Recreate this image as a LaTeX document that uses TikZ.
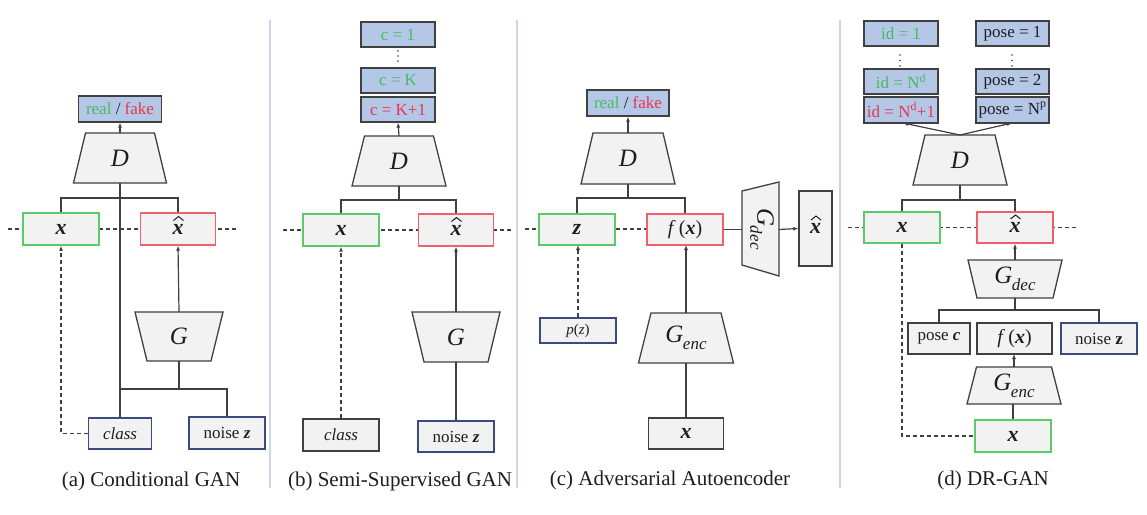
\documentclass[tikz,border=0pt]{standalone}
\usepackage{fontspec}
\setmainfont{Liberation Serif}
\usetikzlibrary{arrows.meta}
\definecolor{boxfill}{HTML}{F2F2F3}
\definecolor{bluefill}{HTML}{B4C7E7}
\definecolor{bord}{HTML}{404040}
\definecolor{navyb}{HTML}{3C4A80}
\definecolor{greenb}{HTML}{5CC96B}
\definecolor{redb}{HTML}{F0606A}
\definecolor{greent}{HTML}{45BC60}
\definecolor{redt}{HTML}{E8364E}
\definecolor{txt}{HTML}{1E1E1E}
\definecolor{sepc}{HTML}{CAD7EA}
\newcommand\vx{\textbf{\textit{x}}}
\newcommand\bigmath{\fontsize{22}{22}\selectfont}
\newcommand\trapez[7]{%
  \draw[trapbox] ({#2-#5/2},#3) -- ({#2+#5/2},#3) -- ({#2+#6/2},#4) -- ({#2-#6/2},#4) -- cycle;
  \node[traplabel] (#1) at (#2,{(#3+#4)/2}) {#7};
  \coordinate (#1-t) at (#2,#3);
  \coordinate (#1-b) at (#2,#4);
}
\newcommand\hatmark[1]{\draw[hatline] (#1.center) ++(-4.5,-8.5) -- ++(5,-4) -- ++(5,4);}
\newcommand\Gsub[1]{\textit{G}\kern-0.5pt\raisebox{-7pt}{\fontsize{17}{17}\selectfont\textit{#1}}}
\begin{document}
\begin{tikzpicture}[x=1pt,y=-1pt,
  box/.style={draw=bord, fill=boxfill, line width=1.3pt, inner sep=0pt, text=txt, font=\fontsize{17}{19}\selectfont},
  gbox/.style={box, draw=greenb},
  rbox/.style={box, draw=redb},
  nbox/.style={box, draw=navyb},
  bbox/.style={box, fill=bluefill},
  sz/.style 2 args={minimum width=#1pt, minimum height=#2pt},
  trapbox/.style={draw=bord, fill=boxfill, line width=1.3pt, line join=miter},
  traplabel/.style={inner sep=0pt, text=txt, font=\fontsize{25}{25}\selectfont\itshape},
  conn/.style={draw=bord, line width=1.2pt},
  arr/.style={conn, -{Latex[length=5pt,width=4pt]}},
  dashl/.style={draw=bord, line width=1.2pt, dash pattern=on 4pt off 3pt},
  darr/.style={dashl, -{Latex[length=5pt,width=4pt]}},
  sepline/.style={draw=sepc, line width=1.2pt},
  captxt/.style={inner sep=0pt, text=txt, font=\fontsize{21}{21}\selectfont},
  dotcol/.style={fill=bord},
  hatline/.style={draw=txt, line width=1pt, line join=miter}
]
\fill[white] (0,0) rectangle (1147,514);
\useasboundingbox (0,0) rectangle (1147,514);

% separators
\draw[sepline] (270,20) -- (270,488);
\draw[sepline] (517,20) -- (517,488);
\draw[sepline] (840,20) -- (840,488);

%================ (a) ================
\draw[dashl] (8,229) -- (237,229);
\node[bbox, sz={83}{26}] (a-rf) at (120,109) {\textcolor{greent}{real} / \textcolor{redt}{fake}};
\trapez{aD}{120}{133}{183}{69}{93}{D}
\trapez{aG}{179}{312}{361}{88}{64}{G}
\draw[conn] (aD-b) -- (120,418);
\draw[conn] (61,213) |- (178,198) -- (178,213);
\draw[conn] (aG-b) -- (179,389);
\draw[conn] (120,389) -| (227,417);
\node[gbox, sz={76}{32}] (a-x) at (61,229) {\bigmath\vx};
\node[rbox, sz={75}{32}] (a-xh) at (178,229) {\bigmath\raisebox{-3pt}{\vx}};
\hatmark{a-xh}
\node[nbox, sz={63}{31}] (a-class) at (120,433.5) {\textit{class}};
\node[nbox, sz={76}{32}] (a-noise) at (227,433) {noise \textbf{\textit{z}}};
\draw[arr] (aD-t) -- (a-rf.south);
\draw[arr] (aG-t) -- (a-xh.south);
\draw[darr] (a-class.west) -| (a-x.south);
\node[captxt] (a-cap) at (151,481) {(a) Conditional GAN};

%================ (b) ================
\draw[dashl] (283,230) -- (512,230);
\node[bbox, sz={74}{25}] (b-c1) at (398,34.5) {\textcolor{greent}{c = 1}};
\foreach \yy in {51,56,61} \fill[dotcol] (398,\yy) circle (0.9);
\node[bbox, sz={74}{25}] (b-cK) at (398,80.5) {\textcolor{greent}{c = K}};
\node[bbox, sz={74}{25}] (b-cK1) at (398,109.5) {\textcolor{redt}{c = K+1}};
\trapez{bD}{399}{136}{186}{69}{94}{D}
\trapez{bG}{456}{312}{362}{88}{64}{G}
\draw[conn] (bD-b) -- (399,200);
\draw[conn] (341,214) |- (456,200) -- (456,214);
\node[gbox, sz={76}{32}] (b-x) at (341,230) {\bigmath\vx};
\node[rbox, sz={75}{32}] (b-xh) at (456,230) {\bigmath\raisebox{-3pt}{\vx}};
\hatmark{b-xh}
\node[box, sz={76}{32}] (b-class) at (341,435) {\textit{class}};
\node[nbox, sz={76}{31}] (b-noise) at (456,436.5) {noise \textbf{\textit{z}}};
\draw[arr] (bD-t) -- (b-cK1.south);
\draw[arr] (bG-t) -- (b-xh.south);
\draw[conn] (b-noise.north) -- (bG-b);
\draw[darr] (b-class.north) -- (b-x.south);
\node[captxt] (b-cap) at (400,481) {(b) Semi-Supervised GAN};

%================ (c) ================
\draw[dashl] (525,229) -- (647,229);
\node[bbox, sz={82}{26}] (c-rf) at (628,103) {\textcolor{greent}{real} / \textcolor{redt}{fake}};
\trapez{cD}{628}{133}{184}{70}{94}{D}
\trapez{cG}{686}{313}{363}{70}{95}{\Gsub{enc}}
\draw[conn] (cD-b) -- (628,198);
\draw[conn] (577,214) |- (685,198) -- (685,214);
\node[gbox, sz={76}{31}] (c-z) at (577,229.5) {\bigmath\textbf{\textit{z}}};
\node[rbox, sz={76}{31}] (c-fx) at (685,229.5) {\fontsize{20}{20}\selectfont\textit{f}\,(\vx)};
\draw[trapbox] (742,191) -- (779,182) -- (779,276) -- (742,265) -- cycle;
\node[traplabel, rotate=-90] (c-Gdec) at (762,229) {\Gsub{dec}};
\node[box, sz={33}{75}] (c-xh) at (815.5,228.5) {\bigmath\raisebox{-3pt}{\vx}};
\hatmark{c-xh}
\draw[conn] (c-fx.east) -- (742,229.5);
\draw[arr] (779,229.5) -- (c-xh.west);
\node[nbox, sz={76}{25}] (c-pz) at (578,330.5) {\fontsize{15}{15}\selectfont\textit{p}(\textit{z})};
\node[box, sz={75}{31}] (c-x) at (686,433.5) {\bigmath\vx};
\draw[arr] (cD-t) -- (c-rf.south);
\draw[arr] (cG-t) -- (686,245);
\draw[conn] (c-x.north) -- (cG-b);
\draw[darr] (c-pz.north) -- (578,245);
\node[captxt] (c-cap) at (670,480) {(c) Adversarial Autoencoder};

%================ (d) ================
\draw[dashl] (848,227.5) -- (1078,227.5);
\node[bbox, sz={74}{25}] (d-id1) at (901,33.5) {\textcolor{greent}{id = 1}};
\foreach \yy in {55,60.5,66} \fill[dotcol] (900,\yy) circle (0.9);
\node[bbox, sz={74}{25}] (d-idN) at (901,81.5) {\textcolor{greent}{id = N\textsuperscript{d}}};
\node[bbox, sz={74}{26}] (d-idN1) at (901,110) {\textcolor{redt}{id = N\textsuperscript{d}+1}};
\node[bbox, sz={73}{25}] (d-p1) at (1012.5,33.5) {pose = 1};
\foreach \yy in {55,60.5,66} \fill[dotcol] (1012,\yy) circle (0.9);
\node[bbox, sz={73}{25}] (d-p2) at (1012.5,81.5) {pose = 2};
\node[bbox, sz={73}{26}] (d-pN) at (1012.5,110) {pose = N\textsuperscript{p}};
\trapez{dD}{960}{135}{185}{70}{94}{D}
\trapez{dGd}{1015}{260}{298}{94}{76}{\Gsub{dec}}
\trapez{dGe}{1014}{367}{404}{75}{94}{\Gsub{enc}}
\draw[arr] (dD-t) -- (903,123);
\draw[arr] (dD-t) -- (1012,123);
\draw[conn] (dD-b) -- (960,200);
\draw[conn] (902,212) |- (1015,200) -- (1015,212);
\node[gbox, sz={76}{31}] (d-x) at (902,227.5) {\bigmath\vx};
\node[rbox, sz={76}{31}] (d-xh) at (1015,227.5) {\bigmath\raisebox{-3pt}{\vx}};
\hatmark{d-xh}
\draw[arr] (dGd-t) -- (d-xh.south);
\draw[conn] (dGd-b) -- (1015,310);
\draw[conn] (939,323) |- (1099,310) -- (1099,323);
\node[box, sz={62}{31}] (d-pose) at (939,338.5) {pose \textbf{\textit{c}}};
\node[box, sz={75}{31}] (d-fx) at (1014.5,338.5) {\fontsize{20}{20}\selectfont\textit{f}\,(\vx)};
\node[nbox, sz={76}{31}] (d-noise) at (1099,338.5) {noise \textbf{z}};
\draw[arr] (dGe-t) -- (1014,354);
\node[gbox, sz={76}{32}] (d-xb) at (1013,436) {\bigmath\vx};
\draw[conn] (d-xb.north) -- (1013,404);
\draw[dashl] (d-x.south) |- (d-xb.west);
\node[captxt] (d-cap) at (993,480) {(d) DR-GAN};
\end{tikzpicture}
\end{document}
